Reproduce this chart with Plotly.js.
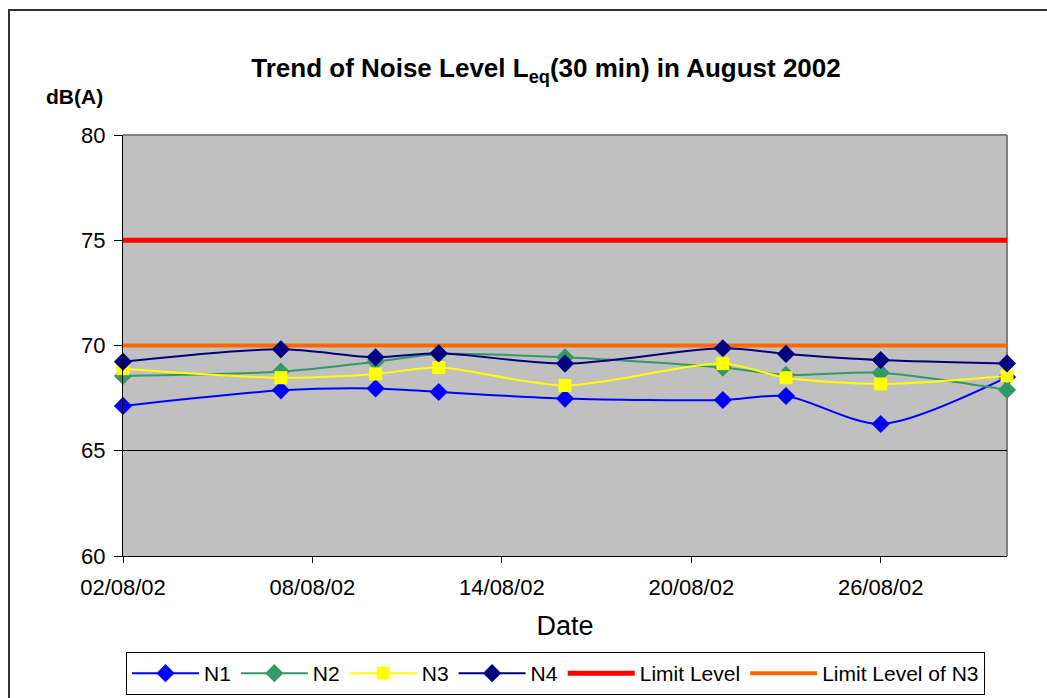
<!DOCTYPE html>
<html>
<head>
<meta charset="utf-8">
<script src="https://cdn.plot.ly/plotly-3.0.1.min.js"></script>
<style>
html,body{margin:0;padding:0;background:#fff;}
#chart{width:1047px;height:698px;position:relative;}
#frame{position:absolute;left:8px;top:9px;width:1100px;height:800px;border:2px solid #333;pointer-events:none;}
</style>
</head>
<body>
<div id="chart"></div>
<div id="frame"></div>
<script>
const dates = ['2002-08-02','2002-08-07','2002-08-10','2002-08-12','2002-08-16','2002-08-21','2002-08-23','2002-08-26','2002-08-30'];
const n1 = [67.13, 67.87, 67.96, 67.79, 67.48, 67.41, 67.6, 66.27, 68.5];
const n2 = [68.55, 68.76, 69.23, 69.6, 69.44, 68.95, 68.6, 68.71, 67.89];
const n3 = [68.9, 68.47, 68.65, 68.95, 68.1, 69.14, 68.47, 68.17, 68.55];
const n4 = [69.23, 69.82, 69.44, 69.63, 69.14, 69.87, 69.6, 69.31, 69.15];
const limitDates = ['2002-08-02','2002-08-30'];
const limitLevel = [75, 75];
const limitLevelN3 = [70, 70];
const xTickStart = '2002-08-02';
const xRange = ['2002-08-02','2002-08-30'];

const font = 'Liberation Sans, Arial, sans-serif';
function series(name, y, color, symbol, size, rank){
  return {x: dates, y: y, name: name, type:'scatter', mode:'lines+markers', legendrank: rank,
    line:{color:color, width:2, shape:'spline', smoothing:0.8},
    marker:{color:color, symbol:symbol, size:size}, cliponaxis:false};
}
const traces = [
  {x: limitDates, y: limitLevel, name:'Limit Level', type:'scatter', mode:'lines', legendrank:5, line:{color:'#FF0000', width:5}},
  {x: limitDates, y: limitLevelN3, name:'Limit Level of N3', type:'scatter', mode:'lines', legendrank:6, line:{color:'#FF6600', width:4}},
  series('N1', n1, '#0000FF', 'diamond', 14, 1),
  series('N2', n2, '#339966', 'diamond', 14, 2),
  series('N3', n3, '#FFFF00', 'square', 13, 3),
  series('N4', n4, '#000080', 'diamond', 14, 4)
];
const layout = {
  width:1047, height:698,
  margin:{l:123, r:40, t:135, b:142},
  paper_bgcolor:'#FFFFFF', plot_bgcolor:'#C0C0C0',
  font:{family:font, color:'#000'},
  showlegend:true,
  title:{text:'<b>Trend of Noise Level L<sub>eq</sub>(30 min) in August 2002</b>', font:{size:26, family:font, color:'#000'},
    x:546/1047, xanchor:'center', xref:'container', y:1-68/698, yanchor:'middle', yref:'container'},
  xaxis:{type:'date', range:xRange, tick0:xTickStart, dtick:6*86400000, tickformat:'%d/%m/%y', automargin:false,
    showgrid:false, zeroline:false, showline:true, linecolor:'#000', linewidth:1,
    ticks:'outside', ticklen:6, tickcolor:'#000', tickfont:{size:22, family:font}, ticklabelstandoff:6,
    title:{text:'Date', font:{size:27, family:font}, standoff:16}},
  yaxis:{range:[60,80], dtick:5, tick0:60, showgrid:true, gridcolor:'#000', gridwidth:1, automargin:false,
    zeroline:false, showline:true, linecolor:'#000', linewidth:1,
    ticks:'outside', ticklen:8, tickcolor:'#000', tickfont:{size:22, family:font}, ticklabelstandoff:4},
  shapes:[
    {type:'line', xref:'paper', yref:'paper', x0:0, x1:1, y0:1, y1:1, line:{color:'#808080', width:2}, layer:'below'},
    {type:'line', xref:'paper', yref:'paper', x0:1, x1:1, y0:0, y1:1, line:{color:'#808080', width:2}, layer:'below'}
  ],
  annotations:[
    {text:'<b>dB(A)</b>', xref:'paper', yref:'paper', x:(74-123)/884, y:(556-97)/421, xanchor:'center', yanchor:'middle', showarrow:false, font:{size:21, family:font}}
  ],
  legend:{orientation:'h', x:126/1047, xref:'container', xanchor:'left', y:1-652/698, yref:'container', yanchor:'top',
    bordercolor:'#000', borderwidth:1, bgcolor:'#fff', font:{size:21, family:font},
    traceorder:'normal', itemwidth:67}
};
Plotly.newPlot('chart', traces, layout, {displayModeBar:false, staticPlot:true});
</script>
</body>
</html>
